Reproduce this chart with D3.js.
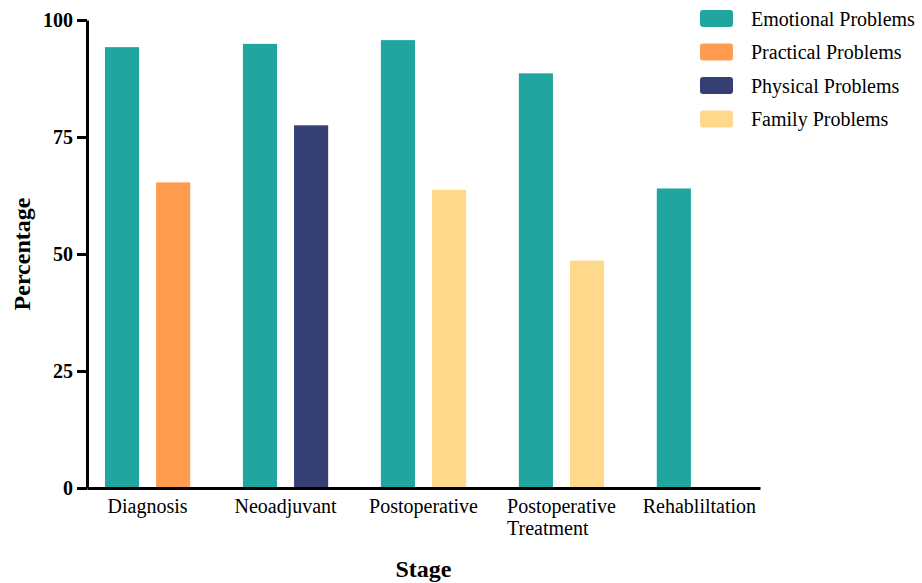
<!DOCTYPE html>
<html>
<head>
<meta charset="utf-8">
<script src="https://cdn.jsdelivr.net/npm/d3@7"></script>
<style>
  html, body { margin: 0; padding: 0; background: #fff; }
  svg { display: block; font-family: "Liberation Serif", "Times New Roman", serif; }
</style>
</head>
<body>
<svg id="chart" width="922" height="583"></svg>
<script>
// ---- data ----
const stages = ["Diagnosis", "Neoadjuvant", "Postoperative", "Postoperative Treatment", "Rehabliltation"];
const seriesNames = ["Emotional Problems", "Practical Problems", "Physical Problems", "Family Problems"];
const emotional = [94.2, 94.9, 95.7, 88.6, 64.0];
const practical = [65.3, null, null, null, null];
const physical  = [null, 77.5, null, null, null];
const family    = [null, null, 63.7, 48.6, null];
const yTicks = [0, 25, 50, 75, 100];
const colors = ["#21A69F", "#FF9C50", "#353F73", "#FED98B"];

const seriesValues = [emotional, practical, physical, family];
const serif = "'Liberation Serif', 'Times New Roman', serif";

// ---- layout ----
const svg = d3.select("#chart");
const plotLeft = 87, plotRight = 760, plotTop = 20, plotBottom = 488;

const x0 = d3.scaleBand().domain(stages).range([plotLeft, plotRight])
  .paddingInner(0.382).paddingOuter(0.13).align(0.5);
const x1 = d3.scaleBand().domain([0, 1]).range([0, x0.bandwidth()])
  .paddingInner(0.333).paddingOuter(0);
const y = d3.scaleLinear().domain([0, 100]).range([plotBottom, plotTop]);
const color = d3.scaleOrdinal().domain(seriesNames).range(colors);

// build bar records: slot = order among present series in each stage
const bars = [];
stages.forEach((st, i) => {
  let slot = 0;
  seriesNames.forEach((s, j) => {
    const v = seriesValues[j][i];
    if (v !== null && v !== undefined) {
      bars.push({ stage: st, series: s, value: v, slot: slot });
      slot++;
    }
  });
});

svg.append("g").selectAll("rect").data(bars).join("rect")
  .attr("x", d => x0(d.stage) + x1(d.slot))
  .attr("width", x1.bandwidth())
  .attr("y", d => y(d.value))
  .attr("height", d => y(0) - y(d.value))
  .attr("fill", d => color(d.series));

// ---- x axis ----
const xAxis = svg.append("g").attr("transform", `translate(0,${plotBottom})`)
  .call(d3.axisBottom(x0).tickSize(0).tickSizeOuter(0).tickFormat(""));
xAxis.attr("font-family", serif);
xAxis.select(".domain").attr("stroke", "#000").attr("stroke-width", 3);
xAxis.selectAll(".tick").each(function(d) {
  const g = d3.select(this);
  const lines = d.split(" ");
  const t = g.append("text")
    .attr("fill", "#000")
    .attr("font-family", serif)
    .attr("font-size", 20)
    .attr("y", 25)
    .attr("text-anchor", "start");
  lines.forEach((ln, k) => {
    t.append("tspan").attr("x", 0).attr("dy", k === 0 ? 0 : 22).text(ln);
  });
  const w = d3.max(t.selectAll("tspan").nodes(), n => n.getComputedTextLength());
  t.selectAll("tspan").attr("x", -w / 2);
});

// ---- y axis ----
const yAxis = svg.append("g").attr("transform", `translate(${plotLeft},0)`)
  .call(d3.axisLeft(y).tickValues(yTicks).tickSize(10).tickSizeOuter(0).tickPadding(4));
yAxis.attr("font-family", serif);
yAxis.select(".domain").attr("stroke", "#000").attr("stroke-width", 3);
yAxis.selectAll(".tick line").attr("stroke", "#000").attr("stroke-width", 3);
yAxis.selectAll(".tick text")
  .attr("fill", "#000")
  .attr("font-size", 20)
  .attr("font-weight", "bold")
  .attr("font-family", serif);

// ---- axis titles ----
svg.append("text")
  .attr("x", (plotLeft + plotRight) / 2).attr("y", 577)
  .attr("text-anchor", "middle")
  .attr("font-family", serif)
  .attr("font-size", 24).attr("font-weight", "bold")
  .text("Stage");

svg.append("text")
  .attr("transform", `translate(30,${(plotTop + plotBottom) / 2}) rotate(-90)`)
  .attr("text-anchor", "middle")
  .attr("font-family", serif)
  .attr("font-size", 24).attr("font-weight", "bold")
  .text("Percentage");

// ---- legend ----
const legend = svg.append("g").attr("font-family", serif);
seriesNames.forEach((s, i) => {
  const gy = 10 + i * 33.5;
  legend.append("rect")
    .attr("x", 700).attr("y", gy)
    .attr("width", 33).attr("height", 17)
    .attr("rx", 3)
    .attr("fill", color(s));
  legend.append("text")
    .attr("x", 751).attr("y", gy + 8.5)
    .attr("dy", "0.35em")
    .attr("font-size", 20)
    .attr("fill", "#000")
    .text(s);
});
</script>
</body>
</html>
